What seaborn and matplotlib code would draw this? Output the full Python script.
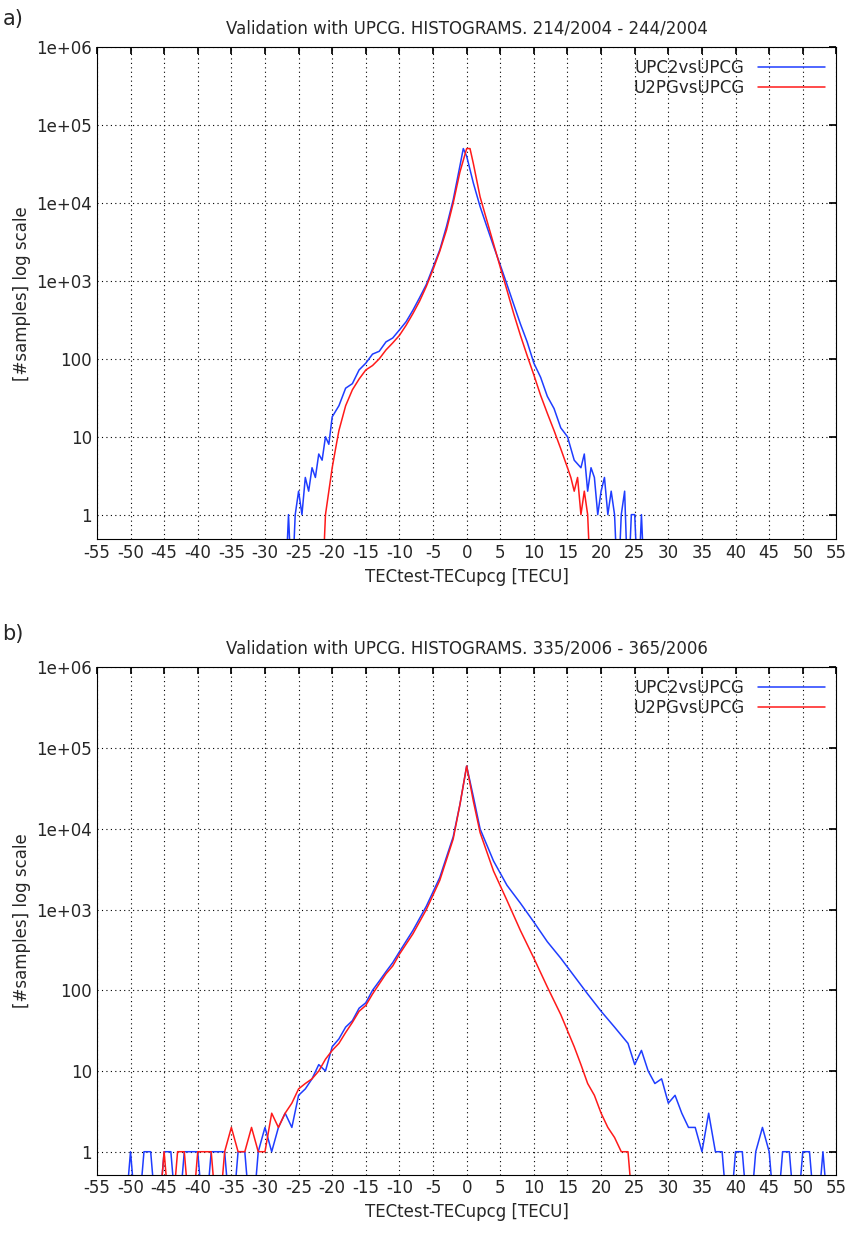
import matplotlib
matplotlib.use("Agg")
import matplotlib.pyplot as plt
import seaborn as sns
import numpy as np
import pandas as pd

# ---- Panel a data ----
a_blue_x = [-27,-26.5,-26,-25.5,-25,-24.5,-24,-23.5,-23,-22.5,-22,-21.5,-21,-20.5,-20,-19,-18,-17,-16,-15,-14,-13,-12,-11,-10,-9,-8,-7,-6,-5,-4,-3,-2,-1,-0.5,0,1,2,3,4,5,6,7,8,9,10,11,12,13,14,15,16,17,17.5,18,18.5,19,19.5,20,20.5,21,21.5,22,22.5,23,23.5,24,24.5,25,25.5,26,26.5,27]
a_blue_y = [0.1,1,0.1,1,2,1,3,2,4,3,6,5,10,8,18,25,42,48,72,88,115,125,165,185,235,300,420,610,900,1500,2500,5000,11000,30000,50000,40000,18000,9000,5000,2800,1600,900,500,280,165,88,58,33,23,13,10,5,4,6,2,4,3,1,2,3,1,2,1,0.1,1,2,0.1,1,1,0.1,1,0.1,0.1]
a_red_x = [-21.5,-21,-20.5,-20,-19.5,-19,-18,-17,-16,-15,-14,-13,-12,-11,-10,-9,-8,-7,-6,-5,-4,-3,-2,-1,0,0.5,1,2,3,4,5,6,7,8,9,10,11,12,13,14,15,15.5,16,16.5,17,17.5,18,18.5]
a_red_y = [0.1,1,2,4,7,12,25,40,55,72,82,100,130,160,200,270,380,550,850,1400,2400,4500,10000,25000,50000,50000,32000,12000,6000,3000,1500,760,380,200,110,62,34,20,12,7,4,3,2,3,1,2,1,0.1]

# ---- Panel b data ----
b_blue_x = [-51,-50,-49,-48,-47,-46,-45,-44,-43,-42,-41,-40,-39,-38,-37,-36,-35,-34,-33,-32,-31,-30,-29,-28,-27,-26,-25,-24,-23,-22,-21,-20,-19,-18,-17,-16,-15,-14,-13,-12,-11,-10,-8,-6,-4,-2,-1,0,1,2,4,6,8,10,12,14,16,18,20,22,24,25,26,27,28,29,30,31,32,33,34,35,36,37,38,39,40,41,42,43,44,45,46,47,48,49,50,51,52,53,54]
b_blue_y = [0.1,1,0.1,1,1,0.1,1,1,0.1,1,1,1,0.1,1,1,1,0.1,1,1,0.1,1,2,1,2,3,2,5,6,8,12,10,20,25,35,42,60,70,100,130,170,220,300,550,1100,2500,8000,20000,60000,25000,10000,4000,2000,1200,700,400,250,150,90,55,35,22,12,18,10,7,8,4,5,3,2,2,1,3,1,1,0.1,1,1,0.1,1,2,1,0.1,1,1,0.1,1,1,0.1,1,0.1]
b_red_x = [-46,-45,-44,-43,-42,-41,-40,-39,-38,-37,-36,-35,-34,-33,-32,-31,-30,-29,-28,-27,-26,-25,-24,-23,-22,-21,-20,-19,-18,-17,-16,-15,-14,-13,-12,-11,-10,-8,-6,-4,-2,-1,0,1,2,4,6,8,10,12,14,16,17,18,19,20,21,22,23,24,25]
b_red_y = [0.1,1,0.1,1,1,0.1,1,1,1,0.1,1,2,1,1,2,1,1,3,2,3,4,6,7,8,10,14,18,22,30,40,55,65,90,120,160,200,280,500,1000,2300,7500,20000,60000,22000,9000,3000,1300,550,250,110,50,20,12,7,5,3,2,1.5,1,1,0.1]

x_ticks = list(range(-55, 56, 5))
y_ticks = [1, 10, 100, 1e3, 1e4, 1e5, 1e6]
y_labels = ["1", "10", "100", "1e+03", "1e+04", "1e+05", "1e+06"]

sns.set_theme(style="white")
plt.rcParams['font.family'] = ['DejaVu Sans']

fig = plt.figure(figsize=(8.5, 12.43), dpi=100)
ax_a = fig.add_axes([0.114, 0.566, 0.870, 0.396])
ax_b = fig.add_axes([0.114, 0.055, 0.870, 0.408])

def draw(ax, bx, by, rx, ry, title, ylow):
    db = pd.DataFrame({"x": bx, "y": by})
    dr = pd.DataFrame({"x": rx, "y": ry})
    sns.lineplot(data=db, x="x", y="y", ax=ax, color="#1f3dff", lw=1.1, estimator=None, sort=False, label="UPC2vsUPCG")
    sns.lineplot(data=dr, x="x", y="y", ax=ax, color="#ff1a1a", lw=1.1, estimator=None, sort=False, label="U2PGvsUPCG")
    ax.set_yscale("log")
    ax.set_xlim(-55, 55)
    ax.set_ylim(ylow, 1e6)
    ax.set_xticks(x_ticks)
    ax.set_xticklabels([str(t) for t in x_ticks], fontsize=12)
    ax.set_yticks(y_ticks)
    ax.set_yticklabels(y_labels, fontsize=12)
    ax.minorticks_off()
    ax.grid(True, color="black", linestyle=(0, (1, 3)), lw=0.8)
    for s in ax.spines.values():
        s.set_color("black"); s.set_linewidth(0.8)
    ax.tick_params(direction="in", length=5, color="black", top=True, right=True)
    ax.set_xlabel("TECtest-TECupcg [TECU]", fontsize=12)
    ax.set_ylabel("[#samples] log scale", fontsize=12)
    ax.set_title(title, fontsize=12, pad=10)
    ax.legend(loc="upper right", frameon=False, fontsize=12, markerfirst=False,
              handlelength=4, borderaxespad=0.3, labelspacing=0.1)

draw(ax_a, a_blue_x, a_blue_y, a_red_x, a_red_y,
     "Validation with UPCG. HISTOGRAMS. 214/2004 - 244/2004", 0.48)
draw(ax_b, b_blue_x, b_blue_y, b_red_x, b_red_y,
     "Validation with UPCG. HISTOGRAMS. 335/2006 - 365/2006", 0.52)
fig.text(0.003, 0.985, "a)", fontsize=15, va="center")
fig.text(0.003, 0.49, "b)", fontsize=15, va="center")
fig.savefig("out.png", dpi=100)
